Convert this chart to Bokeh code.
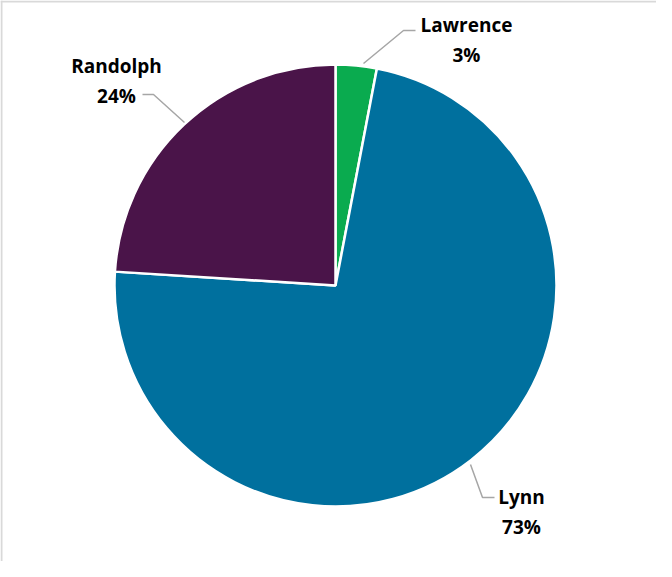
import numpy as np
from bokeh.plotting import figure
from bokeh.models import Range1d, Span, ColumnDataSource
from bokeh.core.properties import value
from bokeh.embed import file_html
from bokeh.resources import INLINE

# Data
categories = ["Lawrence", "Lynn", "Randolph"]
shares = [3, 73, 24]
colors = ["#0aab4f", "#00709e", "#4a1449"]

# Layout (image pixel coordinates; y flipped below)
W, H = 656, 561
IMG_H = 577
cx, cy_img, R = 343, 293, 221
# label anchor (center x, pct baseline y) and leader polyline per category
label_pos = {"Lawrence": (474, 62), "Lynn": (529, 534), "Randolph": (124, 103)}
leaders = {
    "Lawrence": [(371, 71), (411, 38), (423, 38)],
    "Lynn": [(478, 472), (490, 505), (502, 505)],
    "Randolph": [(192, 130), (161, 102), (150, 102)],
}

def fy(y_img):
    return IMG_H - y_img

p = figure(width=W, height=H, output_backend="svg", toolbar_location=None,
           x_range=Range1d(8, 8 + W), y_range=Range1d(IMG_H - 8 - H, IMG_H - 8),
           min_border=0)
p.axis.visible = False
p.grid.visible = False
p.outline_line_color = None
p.background_fill_color = "white"

# frame lines (top and left)
p.add_layout(Span(location=fy(9), dimension="width", line_color="#d9d9d9", line_width=2))
p.add_layout(Span(location=9, dimension="height", line_color="#d9d9d9", line_width=2))

vals = np.array(shares, dtype=float)
frac = vals / vals.sum()
cum = np.concatenate([[0], np.cumsum(frac)])
start = np.pi / 2 - cum[:-1] * 2 * np.pi
end = np.pi / 2 - cum[1:] * 2 * np.pi

src = ColumnDataSource(dict(cat=categories, start=start, end=end, color=colors))
p.wedge(x=cx, y=fy(cy_img), radius=R, start_angle="start", end_angle="end",
        direction="clock", fill_color="color", line_color="white", line_width=2.5,
        source=src)

for cat, v in zip(categories, shares):
    pts = leaders[cat]
    p.line([q[0] for q in pts], [fy(q[1]) for q in pts], line_color="#a6a6a6", line_width=1.5)
    lx, ly = label_pos[cat]
    p.text(x=[lx, lx], y=[fy(ly - 30), fy(ly)], text=[cat, f"{v}%"],
           text_font=value("Open Sans"), text_font_style="bold", text_font_size="19px",
           text_color="#000000", text_align="center", text_baseline="alphabetic")

open("out.html", "w").write(file_html(p, INLINE))
